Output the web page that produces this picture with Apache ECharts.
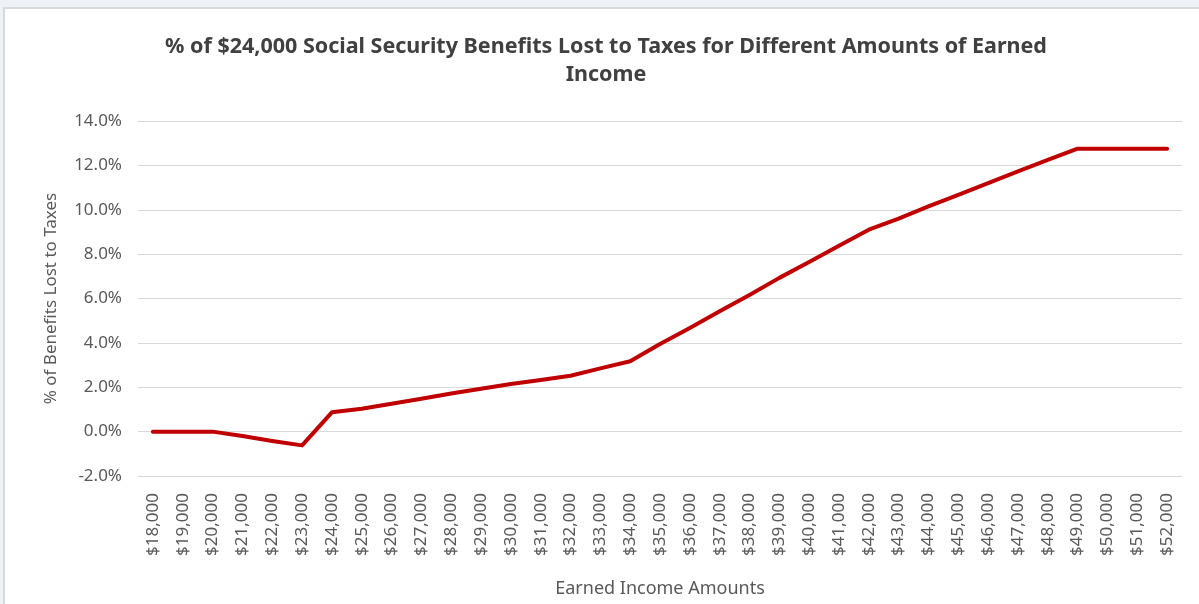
<!DOCTYPE html>
<html>
<head>
<meta charset="utf-8">
<script src="https://cdn.jsdelivr.net/npm/echarts@6/dist/echarts.min.js"></script>
<style>
  html, body { margin: 0; padding: 0; background: #eef1f6; overflow: hidden; }
  #chart {
    position: absolute;
    left: 3px;
    top: 7px;
    width: 1198px;
    height: 599px;
    background: #fff;
    border-left: 2px solid #d9d9d9;
    border-top: 2px solid #d9d9d9;
  }
</style>
</head>
<body>
<div id="chart"></div>
<script>
// categories: earned income amounts
const incomes = [];
for (let v = 18000; v <= 52000; v += 1000) incomes.push(v);
const incomeLabels = incomes.map((v) => "$" + v.toLocaleString("en-US"));

// % of benefits lost to taxes
const pctLost = [
  0, 0, 0, -0.2, -0.42, -0.62, 0.87, 1.03, 1.26, 1.48, 1.72, 1.93,
  2.15, 2.33, 2.52, 2.85, 3.17, 3.95, 4.67, 5.42, 6.16, 6.93, 7.65, 8.38,
  9.1, 9.6, 10.15, 10.67, 11.2, 11.73, 12.25, 12.75, 12.75, 12.75, 12.75,
];

const yTicks = { min: -2, max: 14, interval: 2 };

const labelColor = "#595959";
const font = "'Noto Sans', 'Open Sans', sans-serif";

const chart = echarts.init(document.getElementById("chart"));
chart.setOption({
  animation: false,
  title: {
    text: "% of $24,000 Social Security Benefits Lost to Taxes for Different Amounts of Earned\nIncome",
    left: 596,
    top: 19,
    textAlign: "center",
    textStyle: {
      fontFamily: font,
      fontSize: 21.5,
      fontWeight: "bold",
      color: "#404040",
      lineHeight: 28,
    },
  },
  grid: {
    left: 133,
    top: 112,
    width: 1044,
    height: 355,
    containLabel: false,
  },
  xAxis: {
    type: "category",
    data: incomeLabels,
    boundaryGap: true,
    name: "Earned Income Amounts",
    nameLocation: "middle",
    nameGap: 104,
    nameTextStyle: { fontFamily: font, fontSize: 18, color: labelColor },
    axisLine: { show: false },
    axisTick: { show: false },
    axisLabel: {
      rotate: 90,
      interval: 0,
      margin: 17,
      fontFamily: font,
      fontSize: 17,
      color: labelColor,
    },
  },
  yAxis: {
    type: "value",
    min: yTicks.min,
    max: yTicks.max,
    interval: yTicks.interval,
    name: "% of Benefits Lost to Taxes",
    nameLocation: "middle",
    nameGap: 78,
    nameTextStyle: { fontFamily: font, fontSize: 17, color: labelColor },
    axisLine: { show: false },
    axisTick: { show: false },
    splitLine: { lineStyle: { color: "#d9d9d9", width: 1 } },
    axisLabel: {
      margin: 16,
      fontFamily: font,
      fontSize: 17,
      color: labelColor,
      formatter: (v) => v.toFixed(1) + "%",
    },
  },
  series: [
    {
      type: "line",
      data: pctLost,
      symbol: "none",
      lineStyle: { color: "#c00000", width: 4, cap: "round", join: "round" },
    },
  ],
});
</script>
</body>
</html>
